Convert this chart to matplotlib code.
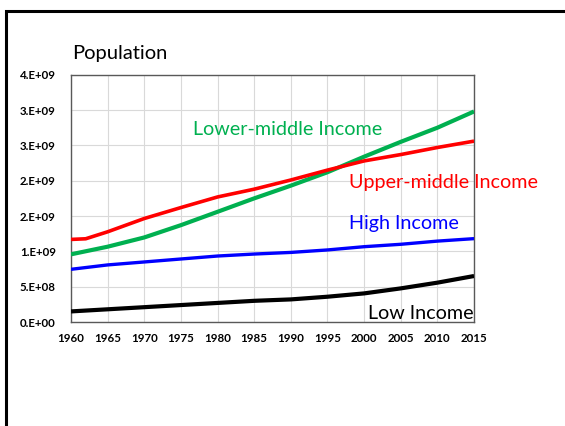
import matplotlib
matplotlib.use("Agg")
import matplotlib.pyplot as plt
from matplotlib.patches import Rectangle

plt.rcParams['font.family'] = ['Lato', 'DejaVu Sans']

years = [1960, 1965, 1970, 1975, 1980, 1985, 1990, 1995, 2000, 2005, 2010, 2015]
upper_years = [1960, 1962, 1965, 1970, 1975, 1980, 1985, 1990, 1995, 2000, 2005, 2010, 2015]

lower_middle = [0.958e9, 1.066e9, 1.197e9, 1.371e9, 1.56e9, 1.75e9, 1.93e9, 2.12e9, 2.34e9, 2.55e9, 2.75e9, 2.98e9]
upper_middle = [1.169e9, 1.178e9, 1.277e9, 1.465e9, 1.62e9, 1.77e9, 1.88e9, 2.01e9, 2.15e9, 2.28e9, 2.37e9, 2.47e9, 2.56e9]
high = [0.746e9, 0.808e9, 0.85e9, 0.892e9, 0.934e9, 0.962e9, 0.985e9, 1.02e9, 1.066e9, 1.10e9, 1.145e9, 1.18e9]
low = [0.150e9, 0.18e9, 0.21e9, 0.24e9, 0.27e9, 0.30e9, 0.32e9, 0.358e9, 0.405e9, 0.476e9, 0.557e9, 0.651e9]

y_ticks = [0, 0.5e9, 1.0e9, 1.5e9, 2.0e9, 2.5e9, 3.0e9, 3.5e9]
y_tick_labels = ['0.E+00', '5.E+08', '1.E+09', '2.E+09', '2.E+09', '3.E+09', '3.E+09', '4.E+09']
x_ticks = list(range(1960, 2016, 5))

GREEN = '#00B050'
RED = '#FF0000'
BLUE = '#0000FF'
BLACK = '#000000'

fig = plt.figure(figsize=(5.65, 4.26), dpi=100)
ax = fig.add_axes([0.1257, 0.2441, 0.839 - 0.1257, 0.8246 - 0.2441])

ax.plot(years, lower_middle, color=GREEN, lw=3.0, solid_capstyle='butt', zorder=3)
ax.plot(upper_years, upper_middle, color=RED, lw=2.6, solid_capstyle='butt', zorder=3)
ax.plot(years, high, color=BLUE, lw=2.4, solid_capstyle='butt', zorder=3)
ax.plot(years, low, color=BLACK, lw=3.0, solid_capstyle='butt', zorder=3)

ax.set_xlim(1960, 2015)
ax.set_ylim(0, 3.5e9)
ax.set_xticks(x_ticks)
ax.set_xticklabels([str(y) for y in x_ticks], fontsize=8.3, fontweight='bold')
ax.set_yticks(y_ticks)
ax.set_yticklabels(y_tick_labels, fontsize=8.3, fontweight='bold')
ax.tick_params(axis='both', length=0)
ax.tick_params(axis='y', pad=11)
ax.tick_params(axis='x', pad=8)
ax.grid(True, color='#D9D9D9', lw=0.8)
ax.set_axisbelow(True)
for s in ax.spines.values():
    s.set_color('#595959')
    s.set_linewidth(1.0)

ax.text(1976.6, 2.73e9, 'Lower-middle Income', color=GREEN, fontsize=14.2, va='center', ha='left')
ax.text(1997.9, 1.97e9, 'Upper-middle Income', color=RED, fontsize=14.2, va='center', ha='left')
ax.text(1997.9, 1.39e9, 'High Income', color=BLUE, fontsize=14.2, va='center', ha='left')
ax.text(2014.9, 0.12e9, 'Low Income', color=BLACK, fontsize=14.2, va='center', ha='right')

fig.text(72 / 565, 1 - 59 / 426, 'Population', fontsize=14.5, ha='left', va='baseline')

fig.add_artist(Rectangle((6 / 565, -0.2), 1.5, 1.2 - 11 / 426, transform=fig.transFigure,
                         fill=False, edgecolor='black', lw=2.2, clip_on=False))

fig.savefig('out.png', dpi=100)
